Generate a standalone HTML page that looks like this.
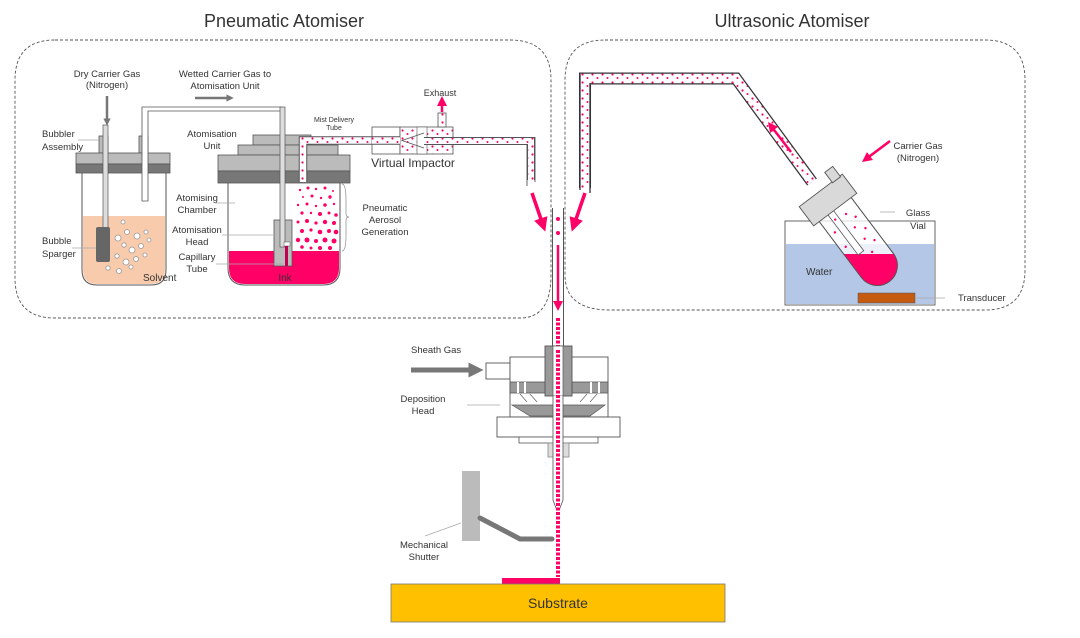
<!DOCTYPE html>
<html><head><meta charset="utf-8"><style>
html,body{margin:0;padding:0;background:#fff}
svg{display:block}
text{font-family:"Liberation Sans",sans-serif;fill:#333}
</style></head><body>
<svg width="1080" height="638" viewBox="0 0 1080 638" xmlns="http://www.w3.org/2000/svg">
<defs>
<pattern id="dots" width="10" height="8" patternUnits="userSpaceOnUse">
<rect width="10" height="8" fill="#fff"/>
<circle cx="2.5" cy="2.5" r="1.1" fill="#ff0066"/><circle cx="7.5" cy="6" r="1" fill="#ff0066"/>
</pattern>
<marker id="ah" markerWidth="4" markerHeight="4" refX="2" refY="2" orient="auto" markerUnits="strokeWidth"><path d="M0,0 L4,2 L0,4 Z" fill="#ff0066"/></marker>
<marker id="ag" markerWidth="3" markerHeight="3" refX="1.5" refY="1.5" orient="auto" markerUnits="strokeWidth"><path d="M0,0 L3,1.5 L0,3 Z" fill="#777"/></marker>
<clipPath id="vialclip"><path transform="translate(828,200) rotate(-37)" d="M-20,10 L-20,82 A20,20 0 0 0 20,82 L20,10 Z"/></clipPath>
</defs>

<text x="284" y="27" font-size="18" text-anchor="middle" fill="#222">Pneumatic Atomiser</text>
<text x="792" y="27" font-size="18" text-anchor="middle" fill="#222">Ultrasonic Atomiser</text>

<path d="M55,40 L510,40 Q551,40 551,80 L551,275 Q551,318 520,318 L55,318 Q15,318 15,278 L15,80 Q15,40 55,40 Z" fill="none" stroke="#555" stroke-dasharray="3,2" stroke-width="0.9"/>
<path d="M605,40 L985,40 Q1025,40 1025,80 L1025,270 Q1025,310 985,310 L610,310 Q565,310 565,275 L565,80 Q565,40 605,40 Z" fill="none" stroke="#555" stroke-dasharray="3,2" stroke-width="0.9"/>

<!-- Bubbler -->
<path d="M82,173 L82,270 Q82,285 97,285 L151,285 Q166,285 166,270 L166,173" fill="#fff" stroke="#555" stroke-width="1"/>
<path d="M83,216 L165,216 L165,270 Q165,284 151,284 L97,284 Q83,284 83,270 Z" fill="#f8cbad"/>
<rect x="99" y="136" width="9" height="17" fill="#bbb" stroke="#555" stroke-width="0.8"/>
<rect x="139" y="136" width="9" height="17" fill="#bbb" stroke="#555" stroke-width="0.8"/>
<rect x="76" y="153" width="94" height="11" fill="#bbb" stroke="#555" stroke-width="0.8"/>
<rect x="76" y="164" width="94" height="9" fill="#777" stroke="#555" stroke-width="0.8"/>
<rect x="103" y="125" width="5" height="105" fill="#ddd" stroke="#555" stroke-width="0.7"/>
<rect x="96" y="227" width="14" height="35" rx="2" fill="#666"/>
<path d="M142,201 L142,107 L282,107 L282,111 L148,111 L148,201 Z" fill="#fff" stroke="#555" stroke-width="0.8"/>
<g fill="#fff" stroke="#999" stroke-width="0.8">
<circle cx="118" cy="238" r="3"/><circle cx="127" cy="232" r="2.5"/><circle cx="137" cy="236" r="3"/><circle cx="146" cy="232" r="2"/><circle cx="124" cy="245" r="2.2"/><circle cx="132" cy="250" r="3"/><circle cx="141" cy="246" r="2.5"/><circle cx="149" cy="240" r="2"/><circle cx="117" cy="256" r="2.2"/><circle cx="126" cy="262" r="3"/><circle cx="136" cy="259" r="2.5"/><circle cx="145" cy="255" r="2"/><circle cx="119" cy="271" r="2.5"/><circle cx="108" cy="268" r="2.2"/><circle cx="131" cy="267" r="2"/><circle cx="123" cy="222" r="2"/></g>
<text x="143" y="281" font-size="10">Solvent</text>

<!-- Atomisation unit -->
<path d="M228,183 L228,268 Q228,285 245,285 L323,285 Q340,285 340,268 L340,183" fill="#fff" stroke="#555" stroke-width="1"/>
<path d="M229,251 L339,251 L339,268 Q339,284 323,284 L245,284 Q229,284 229,268 Z" fill="#ff0066"/>
<rect x="253" y="135" width="58" height="10" fill="#bbb" stroke="#555" stroke-width="0.8"/>
<rect x="238" y="145" width="100" height="10" fill="#bbb" stroke="#555" stroke-width="0.8"/>
<rect x="218" y="155" width="132" height="16" fill="#bbb" stroke="#555" stroke-width="0.8"/>
<rect x="218" y="171" width="132" height="12" fill="#777" stroke="#555" stroke-width="0.8"/>
<rect x="274" y="220" width="18" height="46" fill="#bbb" stroke="#555" stroke-width="0.8"/>
<rect x="280" y="107" width="5" height="140" fill="#ddd" stroke="#555" stroke-width="0.7"/>
<rect x="284" y="242" width="6" height="4" fill="#fff" stroke="#555" stroke-width="0.5"/>
<rect x="285" y="246" width="3" height="20" fill="#c00050"/>
<g fill="#ff0066">
<circle cx="300" cy="190" r="1.2"/><circle cx="308" cy="188" r="1.5"/><circle cx="316" cy="189" r="1.2"/><circle cx="325" cy="188" r="1.5"/><circle cx="333" cy="191" r="1"/>
<circle cx="303" cy="197" r="1"/><circle cx="312" cy="196" r="1.5"/><circle cx="321" cy="198" r="1.2"/><circle cx="330" cy="197" r="1.7"/>
<circle cx="298" cy="205" r="1.2"/><circle cx="307" cy="204" r="1.5"/><circle cx="316" cy="206" r="1.2"/><circle cx="325" cy="205" r="1.8"/><circle cx="334" cy="204" r="1.2"/>
<circle cx="302" cy="213" r="1.6"/><circle cx="311" cy="213" r="1.2"/><circle cx="320" cy="214" r="2"/><circle cx="329" cy="213" r="1.5"/><circle cx="336" cy="215" r="1.8"/>
<circle cx="298" cy="222" r="1.5"/><circle cx="307" cy="221" r="2"/><circle cx="316" cy="223" r="1.6"/><circle cx="325" cy="222" r="2.2"/><circle cx="334" cy="223" r="2"/>
<circle cx="302" cy="231" r="2"/><circle cx="311" cy="230" r="1.6"/><circle cx="320" cy="232" r="2.3"/><circle cx="329" cy="231" r="2"/><circle cx="336" cy="232" r="2.3"/>
<circle cx="298" cy="240" r="2.2"/><circle cx="307" cy="240" r="2.5"/><circle cx="316" cy="241" r="2"/><circle cx="325" cy="240" r="2.5"/><circle cx="334" cy="241" r="2.5"/>
<circle cx="302" cy="247" r="1.8"/><circle cx="320" cy="248" r="2"/><circle cx="311" cy="248" r="1.5"/><circle cx="330" cy="248" r="2"/></g>
<path d="M342,184 Q346,184 346,200 L346,214 Q346,217 349,217 Q346,217 346,220 L346,236 Q346,251 342,251" fill="none" stroke="#888" stroke-width="0.7"/>

<!-- mist delivery tube -->
<path d="M303,182 L303,140.5 L372,140.5" fill="none" stroke="#555" stroke-width="8.5"/>
<path d="M303,182 L303,140.5 L372,140.5" fill="none" stroke="url(#dots)" stroke-width="6.5"/>
<rect x="372" y="127" width="28" height="27" fill="#fff" stroke="#555" stroke-width="0.8"/>
<rect x="400" y="127" width="53" height="27" fill="url(#dots)" stroke="#555" stroke-width="0.8"/>
<rect x="417" y="127" width="10" height="27" fill="#fff" stroke="#555" stroke-width="0.6"/>
<rect x="438" y="113" width="8" height="14" fill="url(#dots)" stroke="#555" stroke-width="0.8"/>
<line x1="442" y1="112" x2="442" y2="101" stroke="#ff0066" stroke-width="2.5" marker-end="url(#ah)"/>
<path d="M372,140.5 L400,140.5" stroke="#555" stroke-width="8.5"/>
<path d="M372,140.5 L400,140.5" stroke="url(#dots)" stroke-width="6.5"/>
<path d="M424,133 L402,140.5 L424,148" fill="none" stroke="#555" stroke-width="0.8"/>
<path d="M424,141 L531,141 L531,185" fill="none" stroke="#555" stroke-width="8"/>
<path d="M424,141 L531,141 L531,185" fill="none" stroke="url(#dots)" stroke-width="6"/>
<rect x="524" y="180" width="14" height="8" fill="#fff"/>
<line x1="527" y1="145" x2="527" y2="186" stroke="#555" stroke-width="0.9"/>
<line x1="535" y1="137" x2="535" y2="182" stroke="#555" stroke-width="0.9"/>
<text x="413" y="167" font-size="12" text-anchor="middle" fill="#333">Virtual Impactor</text>
<text x="440" y="96" font-size="9" text-anchor="middle">Exhaust</text>
<text x="334" y="122" font-size="7" text-anchor="middle">Mist Delivery</text>
<text x="334" y="130" font-size="7" text-anchor="middle">Tube</text>

<g font-size="9.5">
<text x="107" y="77" text-anchor="middle">Dry Carrier Gas</text>
<text x="107" y="88" text-anchor="middle">(Nitrogen)</text>
<text x="225" y="77" text-anchor="middle">Wetted Carrier Gas to</text>
<text x="225" y="89" text-anchor="middle">Atomisation Unit</text>
<text x="42" y="137">Bubbler</text><text x="42" y="150">Assembly</text>
<text x="42" y="244">Bubble</text><text x="42" y="257">Sparger</text>
<text x="212" y="137" text-anchor="middle">Atomisation</text><text x="212" y="149" text-anchor="middle">Unit</text>
<text x="197" y="201" text-anchor="middle">Atomising</text><text x="197" y="213" text-anchor="middle">Chamber</text>
<text x="197" y="233" text-anchor="middle">Atomisation</text><text x="197" y="245" text-anchor="middle">Head</text>
<text x="197" y="260" text-anchor="middle">Capillary</text><text x="197" y="272" text-anchor="middle">Tube</text>
<text x="385" y="211" text-anchor="middle">Pneumatic</text><text x="385" y="223" text-anchor="middle">Aerosol</text><text x="385" y="235" text-anchor="middle">Generation</text>
</g>
<text x="285" y="281" font-size="10" text-anchor="middle" fill="#fff">Ink</text>
<g stroke="#aaa" stroke-width="0.8">
<line x1="78" y1="140" x2="99" y2="140"/><line x1="72" y1="248" x2="96" y2="248"/>
<line x1="215" y1="203" x2="235" y2="203"/><line x1="222" y1="235" x2="273" y2="235"/><line x1="216" y1="264" x2="283" y2="264"/>
</g>
<line x1="107" y1="96" x2="107" y2="122" stroke="#777" stroke-width="2.5" marker-end="url(#ag)"/>
<line x1="195" y1="98" x2="230" y2="98" stroke="#777" stroke-width="2.5" marker-end="url(#ag)"/>

<!-- Ultrasonic -->
<rect x="785" y="221" width="150" height="84" fill="#fff" stroke="#555" stroke-width="0.9"/>
<rect x="786" y="244" width="148" height="60" fill="#b4c7e7"/>
<rect x="858" y="293" width="57" height="10" fill="#c55a11" stroke="#555" stroke-width="0.5"/>
<line x1="915" y1="298" x2="945" y2="298" stroke="#aaa" stroke-width="0.8"/>
<text x="806" y="275" font-size="10">Water</text>
<text x="958" y="301" font-size="9.5">Transducer</text>
<g transform="translate(828,200) rotate(-37)">
<path d="M-20,10 L-20,82 A20,20 0 0 0 20,82 L20,10 Z" fill="rgba(255,255,255,0.75)" stroke="#555" stroke-width="0.9"/>
</g>
<rect x="780" y="254" width="160" height="60" fill="#ff0066" clip-path="url(#vialclip)"/>
<g transform="translate(828,200) rotate(-37)">
<path d="M-20,10 L-20,82 A20,20 0 0 0 20,82 L20,10" fill="none" stroke="#555" stroke-width="0.9"/>
<path d="M-9,10 L-9,62 L-2,62 L-2,10" fill="#fff" stroke="#555" stroke-width="0.8"/>
<g fill="#ff0066"><circle cx="6" cy="22" r="1.2"/><circle cx="12" cy="30" r="1.2"/><circle cx="5" cy="38" r="1.2"/><circle cx="13" cy="45" r="1.2"/><circle cx="6" cy="53" r="1.2"/><circle cx="13" cy="60" r="1.2"/><circle cx="-14" cy="30" r="1.2"/><circle cx="-14" cy="48" r="1.2"/><circle cx="4" cy="68" r="1.2"/><circle cx="-12" cy="66" r="1.2"/><circle cx="-6" cy="20" r="1.2"/></g>
<rect x="-27" y="-12" width="54" height="24" fill="#d9d9d9" stroke="#555" stroke-width="0.9"/>
<rect x="14" y="-24" width="10" height="13" fill="#d9d9d9" stroke="#555" stroke-width="0.9"/>
</g>
<line x1="890" y1="141" x2="866" y2="159" stroke="#ff0066" stroke-width="2.5" marker-end="url(#ah)"/>
<text x="918" y="149" font-size="9.5" text-anchor="middle">Carrier Gas</text>
<text x="918" y="161" font-size="9.5" text-anchor="middle">(Nitrogen)</text>
<line x1="880" y1="212" x2="895" y2="212" stroke="#aaa" stroke-width="0.8"/>
<text x="918" y="216" font-size="9.5" text-anchor="middle">Glass</text>
<text x="918" y="229" font-size="9.5" text-anchor="middle">Vial</text>
<path d="M585,193 L585,78.5 L736,78.5 L812,182" fill="none" stroke="#333" stroke-width="12"/>
<path d="M585,193 L585,78.5 L736,78.5 L812,182" fill="none" stroke="url(#dots)" stroke-width="9.5"/>
<rect x="578" y="188" width="16" height="8" fill="#fff"/>
<line x1="580" y1="74" x2="580" y2="190" stroke="#333" stroke-width="1.3"/>
<line x1="590" y1="83" x2="590" y2="193" stroke="#333" stroke-width="1.3"/>
<line x1="791" y1="152" x2="771" y2="126" stroke="#ff0066" stroke-width="2.5" marker-end="url(#ah)"/>

<line x1="532" y1="193" x2="543" y2="225" stroke="#ff0066" stroke-width="3.5" marker-end="url(#ah)"/>
<line x1="585" y1="193" x2="574" y2="225" stroke="#ff0066" stroke-width="3.5" marker-end="url(#ah)"/>

<line x1="552.5" y1="208" x2="552.5" y2="346" stroke="#555" stroke-width="1"/>
<line x1="563.5" y1="208" x2="563.5" y2="346" stroke="#555" stroke-width="1"/>
<circle cx="558" cy="219" r="2" fill="#ff0066"/><circle cx="558" cy="233" r="2" fill="#ff0066"/>
<line x1="558" y1="245" x2="558" y2="306" stroke="#ff0066" stroke-width="2.5" marker-end="url(#ah)"/>
<line x1="558" y1="318" x2="558" y2="500" stroke="#ff0066" stroke-width="4" stroke-dasharray="3,1.5"/>

<!-- deposition head -->
<rect x="486" y="363" width="24" height="16" fill="#fff" stroke="#555" stroke-width="0.9"/>
<rect x="510" y="357" width="98" height="60" fill="#fff" stroke="#555" stroke-width="0.9"/>
<rect x="510" y="382" width="98" height="11" fill="#999" stroke="#555" stroke-width="0.8"/>
<g fill="#fff"><rect x="517" y="382" width="2" height="11"/><rect x="524" y="382" width="2" height="11"/><rect x="590" y="382" width="2" height="11"/><rect x="598" y="382" width="2" height="11"/></g>
<path d="M512,405 L605,405 L590,416 L530,416 Z" fill="#999" stroke="#555" stroke-width="0.7"/>
<g stroke="#555" stroke-width="0.6"><line x1="520" y1="394" x2="527" y2="402"/><line x1="530" y1="394" x2="537" y2="402"/><line x1="597" y1="394" x2="590" y2="402"/><line x1="587" y1="394" x2="580" y2="402"/></g>
<rect x="545" y="346" width="27" height="50" fill="#999" stroke="#555" stroke-width="0.9"/>
<rect x="553" y="346" width="10" height="50" fill="#fff" stroke="#555" stroke-width="0.7"/>
<rect x="497" y="417" width="123" height="20" fill="#fff" stroke="#555" stroke-width="0.9"/>
<rect x="519" y="437" width="79" height="6" fill="#fff" stroke="#555" stroke-width="0.8"/>
<rect x="548" y="443" width="21" height="14" fill="#ddd" stroke="#888" stroke-width="0.8"/>
<path d="M553,396 L553,500 L556,508 L560,508 L563,500 L563,396" fill="#fff" stroke="#555" stroke-width="0.8"/>
<line x1="558" y1="350" x2="558" y2="577" stroke="#ff0066" stroke-width="4" stroke-dasharray="3,1.5"/>
<line x1="411" y1="370" x2="476" y2="370" stroke="#777" stroke-width="5" marker-end="url(#ag)"/>
<text x="411" y="353" font-size="9.5">Sheath Gas</text>
<text x="423" y="402" font-size="9.5" text-anchor="middle">Deposition</text>
<text x="423" y="414" font-size="9.5" text-anchor="middle">Head</text>
<line x1="467" y1="405" x2="500" y2="405" stroke="#aaa" stroke-width="0.8"/>

<rect x="462" y="471" width="18" height="70" fill="#bbb"/>
<path d="M480,518 L520,539 L552,539" fill="none" stroke="#777" stroke-width="5" stroke-linecap="round"/>
<line x1="425" y1="536" x2="461" y2="523" stroke="#aaa" stroke-width="0.8"/>
<text x="424" y="548" font-size="9.5" text-anchor="middle">Mechanical</text>
<text x="424" y="560" font-size="9.5" text-anchor="middle">Shutter</text>

<rect x="502" y="578" width="58" height="6" fill="#ff0066"/>
<rect x="391" y="584" width="334" height="38" fill="#ffc000" stroke="#777" stroke-width="0.8"/>
<text x="558" y="608" font-size="14" text-anchor="middle" fill="#222">Substrate</text>
</svg>
</body></html>
